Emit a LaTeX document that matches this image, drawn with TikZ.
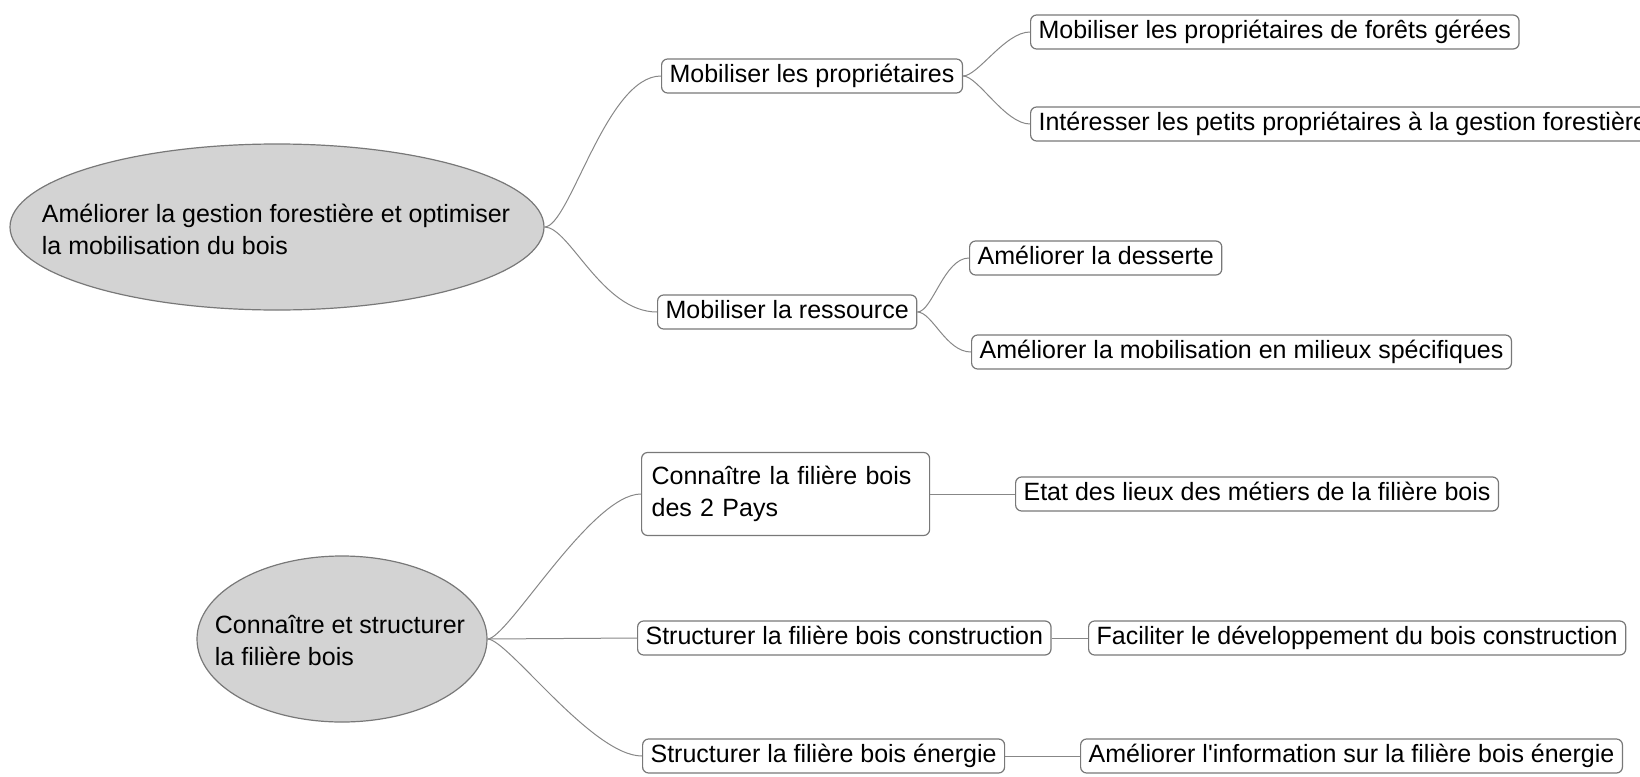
\documentclass[tikz,border=0pt]{standalone}
\usepackage{fontspec}
\setmainfont{Liberation Sans}
\usetikzlibrary{shapes.geometric}
\definecolor{bordgris}{RGB}{120,120,120}
\definecolor{fondgris}{RGB}{211,211,211}
\definecolor{liengris}{RGB}{135,135,135}
\begin{document}
\begin{tikzpicture}[x=1pt, y=-1pt,
      racine/.style = {shape=ellipse, draw=bordgris, fill=fondgris,
        line width=1.2pt, inner sep=0pt
      },
      texte/.style = {align=left, inner sep=0pt,
        font=\fontsize{25}{32}\selectfont
      },
      boite/.style = {shape=rectangle, rounded corners=6pt,
        draw=bordgris, fill=white, line width=1.2pt, anchor=west,
        font=\fontsize{25}{32}\selectfont
      },
      idee/.style = {boite, inner xsep=8pt, inner ysep=5pt,
        text height=18pt, text depth=6pt
      },
      lien/.style = {draw=liengris, line width=1pt}
    ]
    \useasboundingbox (0,0) rectangle (1640,776);
    \clip (0,0) rectangle (1640,776);

    % premier axe
    \node[racine, minimum width=534pt, minimum height=166pt] (g1) at (277,227) {};
    \node[texte] (g1t) at (276,229) {Améliorer la gestion forestière et optimiser\\la mobilisation du bois};
    \node[idee] (p1) at (661,76) {Mobiliser les propriétaires};
    \node[idee] (p2) at (657,312) {Mobiliser la ressource};
    \node[idee] (q1) at (1030,32) {Mobiliser les propriétaires de forêts gérées};
    \node[idee] (q2) at (1030,124) {Intéresser les petits propriétaires à la gestion forestière};
    \node[idee] (q3) at (969,258) {Améliorer la desserte};
    \node[idee] (q4) at (971,352) {Améliorer la mobilisation en milieux spécifiques};

    % second axe
    \node[racine, minimum width=290pt, minimum height=166pt] (g2) at (342,639) {};
    \node[texte] (g2t) at (340,641) {Connaître et structurer\\la filière bois};
    \node[boite, align=left, text width=268pt, inner xsep=10pt,
      minimum height=83pt] (r1) at (641,494) {Connaître la filière bois\\des 2 Pays};
    \node[idee] (r2) at (637,638) {Structurer la filière bois construction};
    \node[idee] (r3) at (642,756) {Structurer la filière bois énergie};
    \node[idee] (s1) at (1015,494) {Etat des lieux des métiers de la filière bois};
    \node[idee] (s2) at (1088,638) {Faciliter le développement du bois construction};
    \node[idee] (s3) at (1080,756) {Améliorer l\textquotesingle information sur la filière bois énergie};

    % liens
    \draw[lien] (g1.east) .. controls +(25,0) and +(-55,0) .. (p1.west);
    \draw[lien] (g1.east) .. controls +(25,0) and +(-55,0) .. (p2.west);
    \draw[lien] (p1.east) .. controls +(15,0) and +(-25,0) .. (q1.west);
    \draw[lien] (p1.east) .. controls +(15,0) and +(-25,0) .. (q2.west);
    \draw[lien] (p2.east) .. controls +(15,0) and +(-25,0) .. (q3.west);
    \draw[lien] (p2.east) .. controls +(15,0) and +(-25,0) .. (q4.west);
    \draw[lien] (g2.east) .. controls +(20,0) and +(-50,0) .. (r1.west);
    \draw[lien] (g2.east) -- (r2.west);
    \draw[lien] (g2.east) .. controls +(20,0) and +(-50,0) .. (r3.west);
    \draw[lien] (r1.east) -- (s1.west);
    \draw[lien] (r2.east) -- (s2.west);
    \draw[lien] (r3.east) -- (s3.west);
\end{tikzpicture}
\end{document}
